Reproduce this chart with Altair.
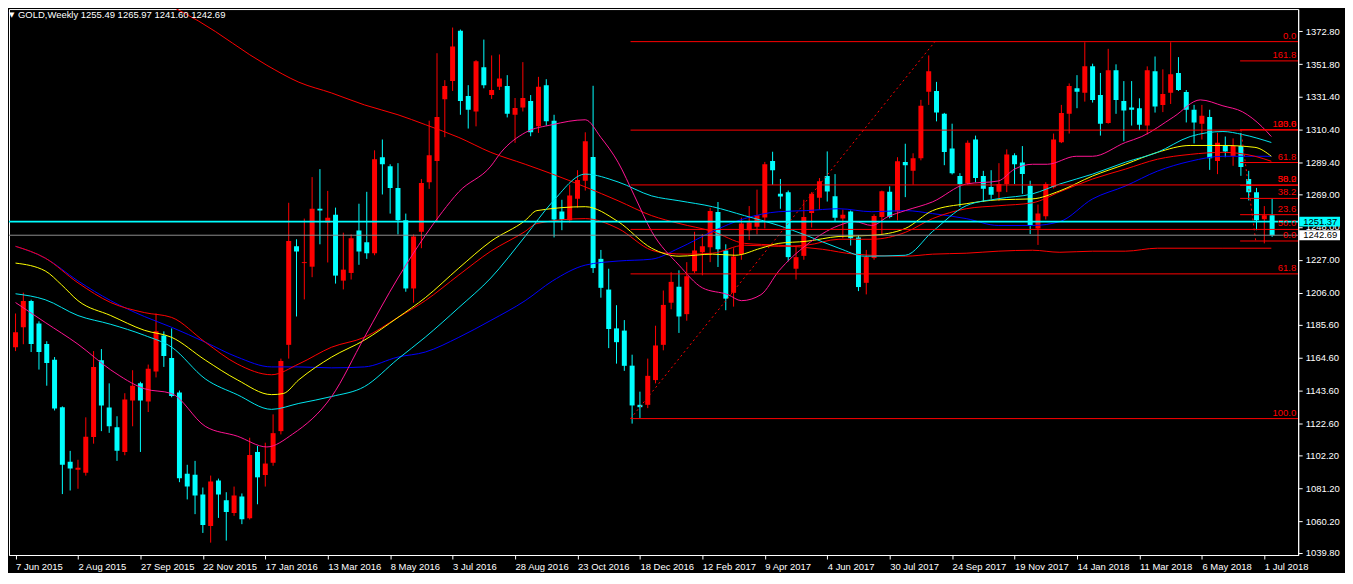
import json
import altair as alt
import pandas as pd

# ---------------- data ----------------
symbol = "GOLD,Weekly"
weeks = list(range(162))  # week index, 0 = week of 7 Jun 2015
opens = [1171.2,1183.9,1200.7,1186.4,1173.3,1163.2,1132.9,1098.0,1093.0,1091.1,
         1113.8,1162.8,1132.7,1120.1,1104.3,1137.2,1148.1,1136.5,1155.7,1178.6,
         1164.3,1142.2,1090.4,1089.8,1077.2,1057.0,1086.0,1073.4,1065.4,1075.9,
         1062.0,1104.3,1089.6,1097.4,1117.6,1172.7,1235.6,1224.9,1222.6,1259.6,
         1250.8,1255.8,1213.7,1218.6,1245.7,1238.2,1231.2,1292.5,1286.8,1272.9,
         1252.2,1208.7,1244.9,1276.5,1290.1,1329.5,1341.1,1373.3,1331.6,1321.7,
         1349.9,1332.2,1337.5,1337.9,1319.6,1324.2,1328.4,1312.2,1338.5,1315.8,
         1257.9,1252.2,1265.9,1277.5,1292.6,1227.6,1208.0,1183.2,1181.8,1159.4,
         1134.4,1134.4,1150.2,1172.7,1199.6,1209.8,1192.3,1219.7,1231.8,1235.0,
         1257.5,1232.9,1205.9,1230.6,1245.9,1248.1,1254.0,1290.1,1269.1,1270.2,
         1221.3,1229.5,1256.9,1266.6,1280.5,1267.6,1253.3,1257.9,1241.3,1212.3,
         1228.1,1254.4,1270.4,1257.9,1289.5,1283.8,1291.8,1334.3,1334.8,1320.2,
         1298.1,1280.5,1275.8,1303.8,1280.5,1273.5,1270.5,1275.4,1293.7,1289.1,
         1274.3,1247.0,1254.8,1273.3,1302.1,1320.2,1336.6,1333.7,1350.5,1332.2,
         1314.4,1348.0,1328.4,1324.2,1323.8,1312.7,1347.4,1325.9,1333.7,1346.3,
         1334.1,1322.8,1313.9,1318.1,1290.1,1300.0,1293.3,1299.6,1278.6,1270.2,
         1252.9,1255.49]
highs = [1192.7,1206.0,1201.5,1187.7,1175.0,1164.9,1133.4,1105.0,1099.3,1126.4,
         1168.7,1170.0,1148.1,1127.1,1141.8,1156.5,1149.1,1160.1,1192.7,1181.3,
         1183.2,1143.5,1096.1,1098.6,1081.6,1089.2,1087.3,1078.6,1082.2,1077.8,
         1113.4,1108.1,1110.2,1128.3,1163.9,1263.4,1240.1,1253.3,1279.8,1284.9,
         1271.0,1260.3,1244.3,1243.2,1262.8,1270.4,1296.9,1303.8,1288.0,1288.7,
         1256.5,1243.2,1278.6,1315.8,1358.9,1341.7,1375.3,1374.0,1338.5,1354.5,
         1367.6,1357.5,1358.1,1344.9,1330.3,1353.2,1332.2,1343.8,1342.3,1319.6,
         1265.3,1274.9,1284.2,1308.4,1338.1,1233.3,1221.3,1198.0,1188.5,1166.4,
         1142.8,1163.9,1184.9,1207.4,1219.0,1220.3,1225.5,1244.9,1243.4,1260.1,
         1263.9,1236.9,1234.4,1253.9,1261.3,1271.8,1289.5,1296.0,1278.6,1271.2,
         1235.4,1265.3,1270.2,1279.2,1296.2,1281.7,1259.0,1258.5,1242.8,1233.3,
         1256.0,1271.2,1273.9,1292.5,1301.1,1295.0,1329.1,1357.5,1340.6,1320.8,
         1313.9,1282.3,1303.2,1306.3,1283.8,1284.2,1288.7,1297.5,1295.0,1299.6,
         1277.5,1262.3,1276.5,1307.6,1325.9,1339.6,1344.9,1365.9,1352.2,1346.3,
         1361.7,1351.8,1341.1,1341.1,1330.1,1350.5,1356.8,1348.6,1365.9,1356.4,
         1335.4,1325.9,1325.9,1322.8,1308.0,1305.7,1304.5,1308.0,1283.8,1272.9,
         1261.3,1265.97]
lows = [1168.7,1173.1,1168.1,1156.9,1146.6,1130.8,1077.4,1079.7,1080.8,1089.2,
        1109.6,1117.6,1116.5,1098.6,1102.2,1120.7,1104.3,1129.8,1151.9,1158.6,
        1139.2,1085.0,1074.0,1064.6,1052.6,1046.4,1062.2,1047.7,1063.5,1058.2,
        1061.2,1070.9,1082.2,1095.5,1115.5,1163.9,1190.8,1201.7,1215.9,1236.9,
        1225.3,1211.8,1208.1,1214.4,1223.8,1227.6,1229.9,1268.7,1256.5,1243.2,
        1206.6,1199.6,1234.4,1272.3,1251.2,1305.3,1334.8,1319.6,1310.8,1312.2,
        1336.5,1329.7,1335.4,1317.9,1301.7,1321.7,1305.9,1308.0,1312.7,1241.3,
        1245.9,1250.8,1260.3,1271.2,1218.6,1202.8,1170.6,1160.7,1156.1,1122.4,
        1126.0,1132.3,1148.1,1169.2,1195.4,1180.3,1188.1,1218.6,1217.1,1225.5,
        1222.4,1194.8,1197.1,1227.0,1239.6,1243.2,1247.0,1274.8,1259.6,1226.0,
        1214.4,1227.0,1247.6,1259.0,1264.2,1251.2,1240.7,1236.1,1207.0,1204.9,
        1227.0,1243.2,1253.5,1252.2,1267.0,1275.0,1290.5,1325.9,1315.4,1287.4,
        1281.5,1260.7,1275.0,1276.5,1263.9,1265.9,1264.5,1270.2,1275.4,1269.1,
        1243.4,1236.5,1252.7,1272.5,1301.5,1307.6,1323.8,1328.0,1327.4,1306.3,
        1313.9,1320.2,1302.7,1312.7,1309.7,1307.0,1321.0,1321.3,1326.5,1334.8,
        1314.7,1301.3,1303.8,1284.4,1281.7,1292.5,1287.0,1280.6,1264.9,1245.9,
        1237.5,1241.60]
closes = [1180.7,1200.7,1173.3,1168.1,1161.1,1132.1,1096.1,1093.8,1094.2,1114.0,
          1158.6,1134.0,1120.7,1105.0,1137.8,1146.6,1137.2,1157.4,1181.3,1165.6,
          1140.1,1087.5,1082.2,1076.5,1057.6,1085.4,1077.2,1066.0,1076.5,1061.4,
          1102.4,1088.1,1096.9,1116.3,1162.4,1239.0,1232.3,1225.5,1259.6,1258.4,
          1253.9,1216.9,1220.7,1240.7,1232.3,1231.2,1291.2,1288.0,1272.9,1252.2,
          1208.7,1241.8,1276.0,1293.7,1318.1,1337.9,1363.2,1328.4,1322.8,1353.7,
          1338.5,1335.4,1342.8,1320.2,1324.0,1330.3,1308.4,1337.5,1315.4,1252.7,
          1252.7,1268.0,1277.9,1302.7,1221.7,1209.1,1182.8,1174.4,1159.3,1134.0,
          1132.9,1152.9,1172.3,1198.2,1212.9,1190.8,1216.5,1232.9,1235.6,1258.2,
          1233.7,1202.2,1229.1,1250.2,1250.8,1255.4,1288.0,1284.2,1267.4,1228.7,
          1228.7,1254.4,1269.1,1277.1,1270.6,1253.9,1255.8,1240.7,1209.6,1228.9,
          1255.0,1270.8,1254.4,1289.9,1287.4,1291.8,1325.3,1347.4,1321.0,1295.8,
          1282.3,1275.2,1301.7,1279.2,1272.3,1268.5,1275.4,1294.3,1288.0,1281.7,
          1249.1,1256.5,1275.4,1303.8,1320.7,1337.9,1334.3,1350.5,1329.1,1313.9,
          1348.0,1329.1,1322.3,1322.8,1313.3,1348.0,1324.8,1332.9,1345.5,1335.4,
          1322.8,1314.7,1318.9,1291.8,1301.7,1296.2,1299.6,1286.3,1270.2,1252.2,
          1255.4,1242.69]

tick_weeks = list(range(0, 161, 8))
date_labels = ["7 Jun 2015", "2 Aug 2015", "27 Sep 2015", "22 Nov 2015", "17 Jan 2016",
               "13 Mar 2016", "8 May 2016", "3 Jul 2016", "28 Aug 2016", "23 Oct 2016",
               "18 Dec 2016", "12 Feb 2017", "9 Apr 2017", "4 Jun 2017", "30 Jul 2017",
               "24 Sep 2017", "19 Nov 2017", "14 Jan 2018", "11 Mar 2018", "6 May 2018",
               "1 Jul 2018"]
price_ticks = [1372.8, 1351.8, 1331.4, 1310.4, 1289.4, 1269.0, 1248.0, 1227.0, 1206.0,
               1185.6, 1164.6, 1143.6, 1122.6, 1102.2, 1081.2, 1060.2, 1039.8]

# moving averages (week index, value)
pink_k = [0,3.8,8.0,12.2,16.5,20.0,24.3,28.4,32.2,35.5,40.5,44.7,49.0,52.5,54.7,56.8,60.9,62.2,65.3,68.8,
          73.0,75.0,77.2,79.3,81.5,85.0,88.0,91.3,93.0,95.5,97.8,101.3,105.5,107.5,109.7,111.8,114.0,117.5,
          121.8,125.9,128.0,130.3,132.2,135.9,138.0,142.2,144.3,148.4,151.8,154.7,157.2,159.7,160.9]
pink_v = [1199.7,1187.0,1173.1,1156.7,1144.7,1141.6,1120.7,1114.4,1107.5,1115.7,1139.7,1177.5,1215.4,1242.6,
          1257.7,1270.4,1286.8,1295.6,1308.2,1313.3,1316.4,1305.1,1289.3,1267.8,1245.1,1223.6,1209.1,1204.7,
          1200.9,1204.7,1219.9,1236.3,1248.9,1251.4,1248.9,1254.6,1258.4,1264.0,1275.4,1277.3,1284.9,1288.0,
          1288.0,1293.1,1293.1,1301.9,1305.7,1318.3,1329.1,1325.3,1321.5,1312.0,1305.7]
cyan_k = [0,3.8,8.0,12.2,16.5,20.0,24.3,28.4,32.8,36.3,40.5,44.7,49.0,52.5,56.8,60.9,65.3,68.8,73.0,77.2,
          81.5,85.0,89.3,93.4,97.8,101.3,105.5,108.8,114.0,117.5,121.8,125.9,130.3,133.8,138.0,142.2,146.3,
          150.5,154.7,157.2,160.9]
cyan_v = [1205.3,1201.5,1191.4,1185.8,1178.8,1171.2,1151.0,1140.9,1131.5,1135.3,1139.7,1146.0,1163.7,1177.6,
          1196.5,1215.4,1242.0,1264.0,1281.7,1276.7,1267.8,1264.7,1260.9,1255.2,1248.9,1242.6,1234.4,1229.3,
          1229.9,1245.1,1261.5,1266.0,1269.1,1275.4,1281.7,1289.3,1295.6,1305.7,1308.9,1307.0,1301.9]
yellow_k = [0,3.8,5.9,8.0,12.2,16.5,20.0,24.3,28.4,32.8,34.3,36.3,40.5,44.7,49.0,52.5,56.8,60.9,65.3,66.8,
            73.0,77.2,81.5,85.0,89.3,92.2,95.5,97.8,101.3,105.5,109.7,114.0,117.5,121.8,125.9,130.3,133.8,
            138.0,142.2,146.3,150.5,154.7,158.8,160.9]
yellow_v = [1224.9,1219.9,1211.0,1200.9,1191.4,1182.0,1177.5,1163.0,1150.4,1140.9,1141.6,1150.4,1164.9,1175.7,
            1190.2,1202.8,1221.7,1238.8,1252.1,1258.4,1260.9,1251.4,1234.4,1229.3,1230.6,1229.9,1234.4,1237.5,
            1238.8,1241.9,1242.6,1247.0,1258.4,1262.8,1265.3,1265.9,1271.0,1280.5,1288.0,1295.6,1300.0,1300.0,
            1298.8,1293.1]
red_k = [0,3.8,8.0,12.2,16.5,20.0,24.3,28.4,32.8,36.3,40.5,44.7,49.0,52.5,56.8,60.9,65.3,66.8,73.0,77.2,
         81.5,83.4,85.9,89.3,93.4,97.8,101.3,105.5,109.7,114.0,117.5,121.8,125.9,130.3,133.8,138.0,142.2,
         146.3,150.5,154.7,158.8,160.9]
red_v = [1235.6,1228.1,1212.3,1199.7,1193.3,1190.2,1174.4,1160.5,1153.6,1160.5,1171.2,1177.5,1190.2,1200.9,
         1217.3,1232.5,1245.1,1250.2,1253.3,1247.0,1233.1,1231.2,1230.6,1231.2,1236.3,1235.6,1236.3,1240.1,
         1240.1,1244.5,1253.3,1259.6,1261.5,1263.4,1270.4,1278.6,1284.9,1291.2,1294.3,1295.6,1293.1,1289.9]
blue_k = [0,3.8,8.0,12.2,16.5,20.0,24.3,28.4,32.8,36.3,40.5,44.7,49.0,52.5,56.8,60.9,65.3,68.8,73.0,77.2,
          81.5,85.0,89.3,93.4,97.8,101.3,105.5,109.7,114.0,117.5,121.8,125.9,130.3,133.8,138.0,142.2,146.3,
          150.5,154.7,160.9]
blue_v = [1235.6,1228.1,1213.5,1200.9,1190.8,1183.9,1174.4,1164.9,1158.6,1158.6,1158.0,1158.6,1164.9,1168.1,
          1177.5,1188.3,1200.9,1213.5,1223.6,1226.2,1227.4,1234.4,1245.1,1253.3,1257.7,1258.4,1259.6,1257.7,
          1258.4,1256.5,1253.3,1248.9,1248.9,1251.4,1265.9,1274.1,1283.6,1289.9,1293.1,1293.1]
slow_k = [18.7,23.4,32.2,36.3,40.5,44.7,49.0,52.5,56.8,60.9,65.3,68.8,73.0,77.2,81.5,85.0,89.3,93.4,97.8,
          103.4,107.5,114.0,117.5,121.8,125.9,130.3,133.8,138.0,142.2,146.3,154.7,160.9]
slow_v = [1392.2,1379.6,1351.2,1340.4,1333.5,1325.9,1319.6,1313.3,1305.1,1295.6,1288.0,1281.7,1273.5,1264.7,
          1255.2,1250.2,1245.1,1237.5,1236.3,1233.7,1230.6,1229.3,1230.6,1231.2,1232.5,1233.1,1231.8,1232.5,
          1232.5,1234.4,1234.4,1234.4]

# Fibonacci objects
fib_start = [78.8] * 6 + [156.9] * 7
fib_price = [1366.3, 1309.8, 1274.8, 1246.4, 1218.0, 1125.6,
             1239.0, 1255.8, 1266.2, 1274.6, 1289.1, 1310.1, 1354.0]
fib_label = ["0.0", "23.6", "38.2", "50.0", "61.8", "100.0",
             "0.0", "23.6", "38.2", "50.0", "61.8", "100.0", "161.8"]
trend_id = ["a", "a", "b", "b"]
trend_k = [78.8, 117.8, 157.0, 158.9]
trend_v = [1125.6, 1366.3, 1310.1, 1239.0]

hline_price = 1251.37
last_price = closes[-1]

# ---------------- chart ----------------
W, H = 1294, 548
FONT = "Liberation Sans"
xs = alt.Scale(domain=[-0.2, 163.7], nice=False, zero=False)
ys = alt.Scale(domain=[1038.5, 1387.1], nice=False, zero=False)
dir_scale = alt.Scale(domain=["up", "down"], range=["#ff0000", "#00ffff"])

candles = pd.DataFrame({"k": weeks, "o": opens, "h": highs, "l": lows, "c": closes})
candles["dir"] = ["up" if c >= o else "down" for o, c in zip(opens, closes)]

label_expr = json.dumps(date_labels) + "[round(datum.value / 8)]"
x_axis = alt.Axis(values=tick_weeks, labelExpr=label_expr, title=None, labelAlign="left",
                  labelBaseline="top", tickSize=4, labelPadding=3, labelOverlap=False,
                  labelFlush=False, labelBound=False)
y_axis = alt.Axis(values=price_ticks, format=".2f", title=None, orient="right", tickSize=4,
                  labelPadding=3, labelOverlap=False, labelFlush=False, labelBound=False)


def X(f):
    return alt.X(f, scale=xs, axis=x_axis)


def Y(f):
    return alt.Y(f, scale=ys, axis=y_axis)


wicks = alt.Chart(candles).mark_rule(clip=True, strokeWidth=1).encode(
    x=X("k:Q"), y=Y("l:Q"), y2="h:Q",
    color=alt.Color("dir:N", scale=dir_scale, legend=None),
)
bodies = alt.Chart(candles).mark_bar(size=5, clip=True).encode(
    x=X("k:Q"), y=Y("o:Q"), y2="c:Q",
    color=alt.Color("dir:N", scale=dir_scale, legend=None),
)

fib = pd.DataFrame({"start": fib_start, "price": fib_price, "label": fib_label})
fib_lines = alt.Chart(fib).mark_rule(color="#ff0000", strokeWidth=1, clip=True).encode(
    x=X("start:Q"), x2=alt.value(W), y=Y("price:Q"))
fib_text = alt.Chart(fib).mark_text(color="#ff0000", align="right", baseline="bottom",
                                    font=FONT, fontSize=9.5, dy=-1).encode(
    x=alt.value(W - 2), y=Y("price:Q"), text="label:N")
trend = pd.DataFrame({"id": trend_id, "k": trend_k, "v": trend_v})
trend_lines = alt.Chart(trend).mark_line(color="#ff0000", strokeWidth=1, strokeDash=[2, 3],
                                         clip=True).encode(x=X("k:Q"), y=Y("v:Q"), detail="id:N")

hl = pd.DataFrame({"p": [hline_price]})
cyan_hline = alt.Chart(hl).mark_rule(color="#00ffff", strokeWidth=2).encode(y=Y("p:Q"))
lp = pd.DataFrame({"p": [last_price]})
gray_hline = alt.Chart(lp).mark_rule(color="#8c8c8c", strokeWidth=1).encode(y=Y("p:Q"))

ma_layers = []
for ks, vs, colr in [(slow_k, slow_v, "#ff0000"), (blue_k, blue_v, "#0000ff"),
                     (red_k, red_v, "#ff0000"), (yellow_k, yellow_v, "#ffff00"),
                     (cyan_k, cyan_v, "#00e5ee"), (pink_k, pink_v, "#ff1493")]:
    d = pd.DataFrame({"k": ks, "v": vs})
    ma_layers.append(alt.Chart(d).mark_line(color=colr, strokeWidth=1, clip=True,
                                            interpolate="monotone").encode(x=X("k:Q"), y=Y("v:Q")))

boxes = pd.DataFrame({"p": [hline_price, last_price],
                      "t": [f"{hline_price:.2f}", f"{last_price:.2f}"],
                      "bg": ["cyan", "white"]})
box_rules = alt.Chart(boxes).mark_rule(strokeWidth=10).encode(
    x=alt.value(W + 1), x2=alt.value(W + 42), y=Y("p:Q"),
    color=alt.Color("bg:N", scale=alt.Scale(domain=["cyan", "white"], range=["#00ffff", "#ffffff"]),
                    legend=None))
box_text = alt.Chart(boxes).mark_text(color="black", align="left", baseline="middle",
                                      font=FONT, fontSize=9.5).encode(
    x=alt.value(W + 5), y=Y("p:Q"), text="t:N")

header = f"{symbol}  {opens[-1]:.2f} {highs[-1]:.2f} {lows[-1]:.2f} {closes[-1]:.2f}"
head = alt.Chart(pd.DataFrame({"t": [header]})).mark_text(
    color="white", align="left", baseline="middle", font=FONT, fontSize=9.5).encode(
    x=alt.value(9), y=alt.value(6), text="t:N")
tri = alt.Chart(pd.DataFrame({"t": ["\u25bc"]})).mark_text(
    color="white", align="left", baseline="middle", font="DejaVu Sans", fontSize=7).encode(
    x=alt.value(0), y=alt.value(6), text="t:N")

chart = alt.layer(
    wicks, bodies, *ma_layers, fib_lines, trend_lines, cyan_hline, gray_hline,
    fib_text, box_rules, box_text, head, tri,
).resolve_scale(color="independent").properties(
    width=W, height=H, background="black", padding=0
).configure_view(stroke="white", strokeWidth=1).configure_axis(
    domainColor="white", tickColor="white", labelColor="white", labelFont=FONT,
    labelFontSize=9.5, grid=False, domainWidth=1, tickWidth=1
)

chart.save("out.html", embed_options={"renderer": "svg", "actions": False})
